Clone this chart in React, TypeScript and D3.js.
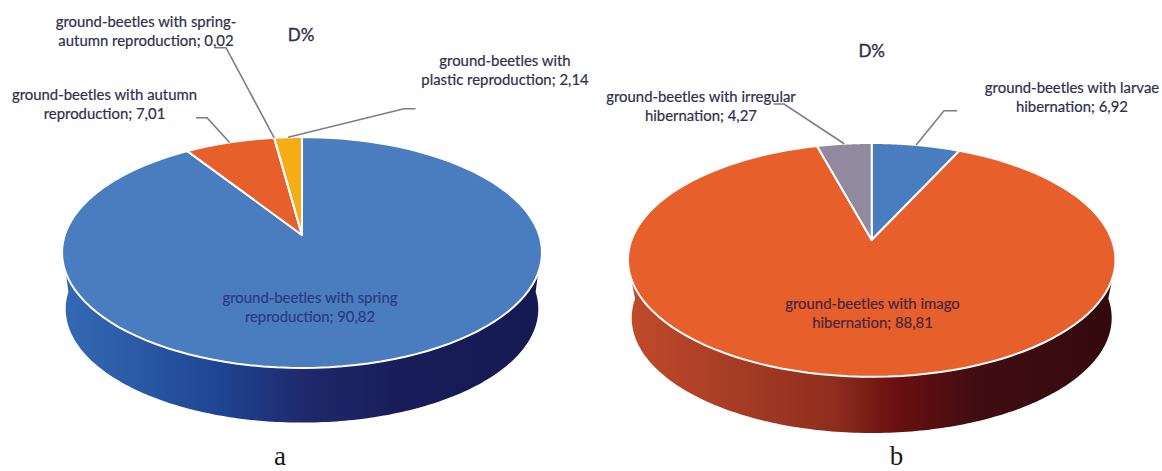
import React from "react";
import * as d3 from "d3";

// Dominance of reproduction types (panel a) and hibernation types (panel b), D%.
const categoriesA = [
  ["ground-beetles with spring", "reproduction; 90,82"],
  ["ground-beetles with autumn", "reproduction; 7,01"],
  ["ground-beetles with spring-", "autumn reproduction; 0,02"],
  ["ground-beetles with", "plastic reproduction; 2,14"],
];
const valuesA = [90.82, 7.01, 0.02, 2.14];
const categoriesB = [
  ["ground-beetles with larvae", "hibernation; 6,92"],
  ["ground-beetles with imago", "hibernation; 88,81"],
  ["ground-beetles with irregular", "hibernation; 4,27"],
];
const valuesB = [6.92, 88.81, 4.27];

const coloursA = ["#4a7dbf", "#e75f2b", "#e75f2b", "#f4ad17"];
const coloursB = ["#4a7dbf", "#e75f2b", "#918a9f"];

type Lens = { cx: number; apexY: number; a: number; b: number; k: number; depth: number };
type Callout = { x: number; y: number; elbow?: [number, number][] };

const lensA: Lens = { cx: 302, apexY: 235, a: 112.8, b: 237.2, k: 0.1515, depth: 57 };
const lensB: Lens = { cx: 871.7, apexY: 240, a: 113.5, b: 240.2, k: 0.17, depth: 58.7 };

const calloutsA: Callout[] = [
  { x: 310, y: 303 },
  { x: 104.5, y: 100, elbow: [[196, 117.7], [207, 117.7]] },
  { x: 146, y: 27, elbow: [[215, 47.7], [226, 47.7]] },
  { x: 505, y: 66, elbow: [[415.5, 108.7], [404, 108.7]] },
];
const calloutsB: Callout[] = [
  { x: 1072, y: 93, elbow: [[957, 110.7], [944, 110.7]] },
  { x: 872.5, y: 309 },
  { x: 701, y: 102, elbow: [[773.6, 104], [784, 104]] },
];

// Perspective projection of a unit-circle point at the given clockwise angle from the top.
function project(l: Lens, angle: number, r = 1, dy = 0): [number, number] {
  const X = r * Math.sin(angle);
  const Y = r * Math.cos(angle);
  const w = 1 + l.k * Y;
  return [l.cx + (l.b * X) / w, l.apexY - (l.a * Y) / w + dy];
}

const line = d3.line<[number, number]>();
const TEXT = "#2f2f4c";
const LEADER = "#7d7a8c";

function Pie(props: {
  lens: Lens;
  id: string;
  values: number[];
  labels: string[][];
  colours: string[];
  callouts: Callout[];
  stops: [number, string][];
  title: [number, number];
  caption: [string, number, number];
  inside: string;
}) {
  const { lens, id, values, labels, colours, callouts, stops, title, caption, inside } = props;
  const arcs = d3.pie<number>().sort(null)(values);

  const sliceSteps = (s: number, e: number) =>
    d3.range(0, 121).map((i) => project(lens, s + ((e - s) * i) / 120));

  // Side wall: the front of the lower rim closed against the front of the upper rim.
  const start = Math.PI * 0.604;
  const end = Math.PI * 1.396;
  const rimTop = d3.range(0, 161).map((i) => project(lens, start + ((end - start) * i) / 160));
  const rimBottom = d3
    .range(0, 201)
    .map((i) => project(lens, Math.PI * 0.5 + (Math.PI * i) / 200, 0.985, lens.depth));
  const wall = [rimTop[0], ...rimBottom, rimTop[160], ...rimTop.slice().reverse()];

  return (
    <g>
      <defs>
        <linearGradient id={id} gradientUnits="userSpaceOnUse" x1={lens.cx - lens.b} x2={lens.cx + lens.b} y1={0} y2={0}>
          {stops.map(([o, c]) => (
            <stop key={o} offset={o} stopColor={c} />
          ))}
        </linearGradient>
      </defs>
      <path d={line(wall) + "Z"} fill={`url(#${id})`} />
      {arcs.map((a, i) => (
        <path
          key={i}
          d={line([[lens.cx, lens.apexY], ...sliceSteps(a.startAngle, a.endAngle)]) + "Z"}
          fill={colours[i]}
          stroke="#ffffff"
          strokeWidth={2}
          strokeLinejoin="round"
        />
      ))}
      {arcs.map((a, i) => {
        const c = callouts[i];
        const rim = project(lens, (a.startAngle + a.endAngle) / 2);
        return (
          <g key={i}>
            {c.elbow && <path d={line([...c.elbow, rim]) ?? ""} fill="none" stroke={LEADER} strokeWidth={1.6} />}
            <text
              x={c.x}
              y={c.y}
              textAnchor="middle"
              fontFamily="Lato, sans-serif"
              fontSize={14.9}
              fill={c.elbow ? TEXT : inside}
              stroke={c.elbow ? TEXT : inside}
              strokeWidth={0.2}
            >
              <tspan x={c.x}>{labels[i][0]}</tspan>
              <tspan x={c.x} dy={19}>
                {labels[i][1]}
              </tspan>
            </text>
          </g>
        );
      })}
      <text
        x={title[0]}
        y={title[1]}
        textAnchor="middle"
        fontFamily="Lato, sans-serif"
        fontSize={17}
        fill={TEXT}
        stroke={TEXT}
        strokeWidth={0.35}
      >
        D%
      </text>
      <text x={caption[1]} y={caption[2]} textAnchor="middle" fontFamily="'Liberation Serif', serif" fontSize={27} fill="#1a1a1a">
        {caption[0]}
      </text>
    </g>
  );
}

export default function App() {
  return (
    <svg width={1162} height={471} style={{ position: "absolute", left: 0, top: 0, background: "#fff" }}>
      <Pie
        lens={lensA}
        id="wallA"
        values={valuesA}
        labels={categoriesA}
        colours={coloursA}
        callouts={calloutsA}
        stops={[
          [0, "#3468b3"],
          [0.15, "#2c5aa4"],
          [0.33, "#1d4492"],
          [0.5, "#20296d"],
          [0.72, "#181c58"],
          [1, "#161a52"],
        ]}
        title={[301, 41]}
        caption={["a", 280, 465]}
        inside="#2b3a80"
      />
      <Pie
        lens={lensB}
        id="wallB"
        values={valuesB}
        labels={categoriesB}
        colours={coloursB}
        callouts={calloutsB}
        stops={[
          [0, "#c04a2a"],
          [0.2, "#a83d26"],
          [0.42, "#8f2e1d"],
          [0.55, "#6b0f10"],
          [0.72, "#3f0d12"],
          [1, "#33090d"],
        ]}
        title={[871.7, 57]}
        caption={["b", 896.5, 465]}
        inside="#4a2440"
      />
    </svg>
  );
}
